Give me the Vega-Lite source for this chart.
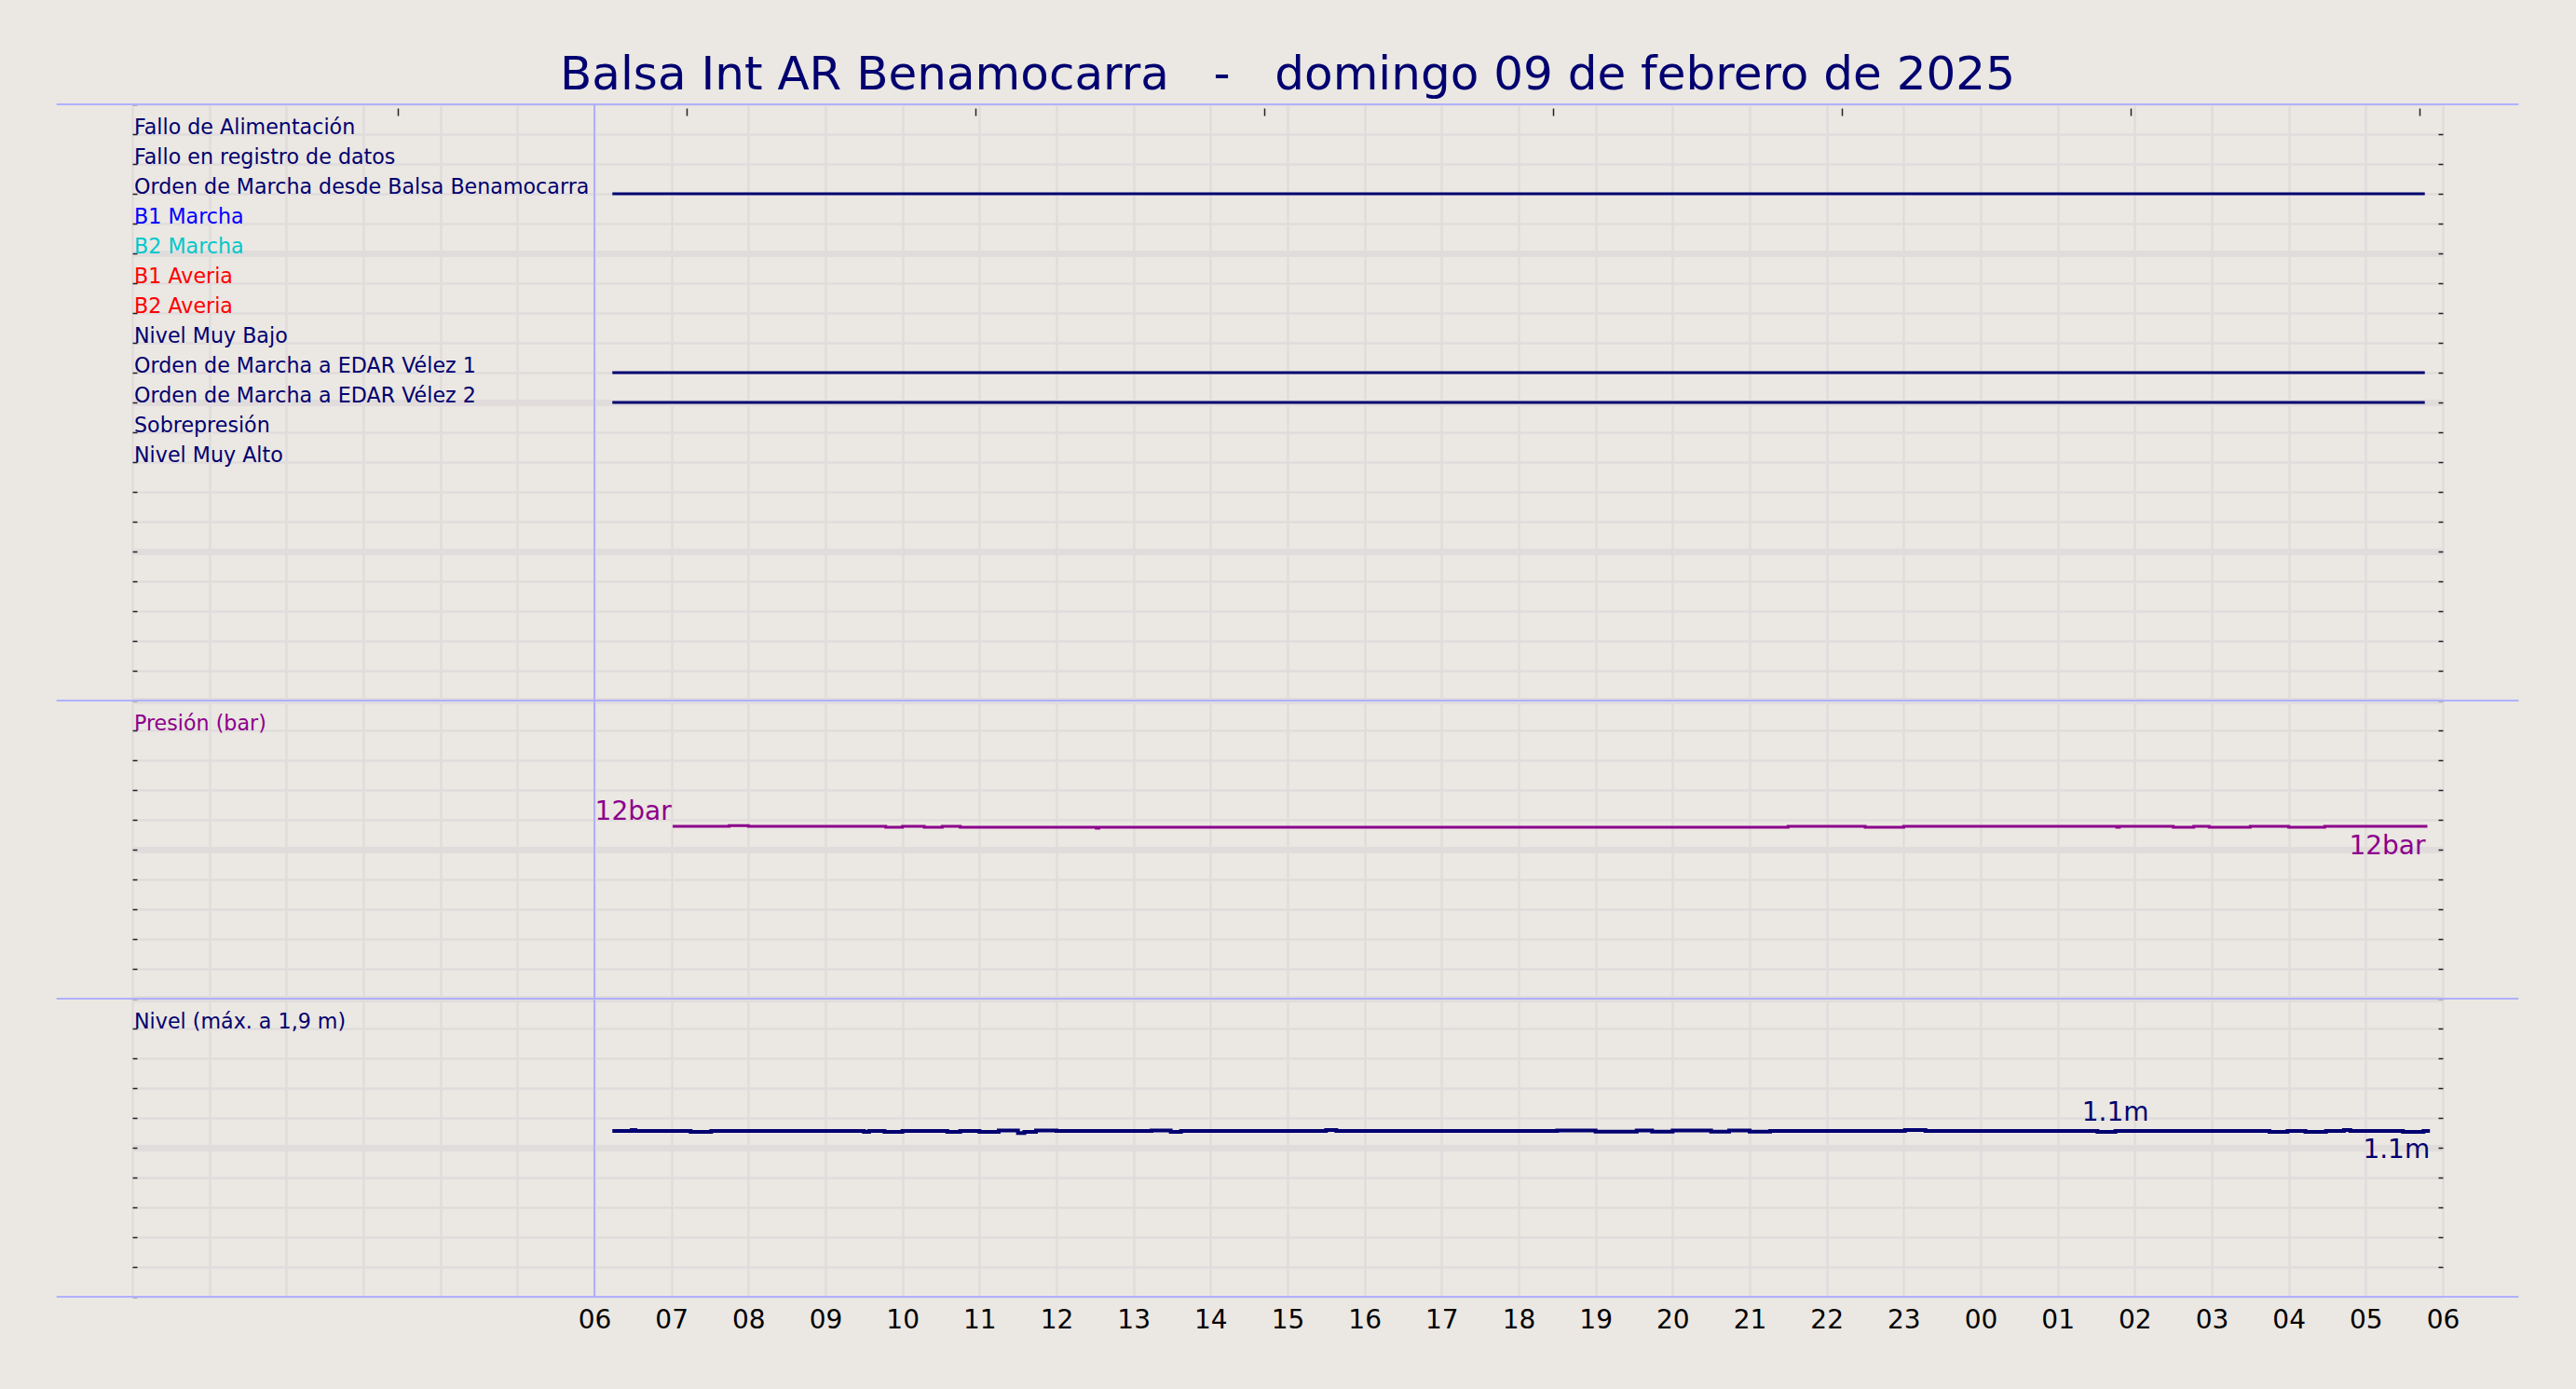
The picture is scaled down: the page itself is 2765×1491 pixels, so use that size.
{
  "$schema": "https://vega.github.io/schema/vega-lite/v6.json",
  "width": 2480,
  "height": 1280,
  "autosize": {"type": "none"},
  "padding": {"left": 142, "top": 112, "right": 143, "bottom": 99},
  "background": "#ebe7e2",
  "config": {
    "view": {"fill": "#ebe7e2", "stroke": null},
    "font": "DejaVu Sans",
    "axis": {"labelFont": "DejaVu Sans", "titleFont": "DejaVu Sans"},
    "text": {"font": "DejaVu Sans"}
  },
  "title": {
    "text": "Balsa Int AR Benamocarra \u00a0 - \u00a0 domingo 09 de febrero de 2025",
    "fontSize": 50,
    "font": "DejaVu Sans",
    "fontWeight": "normal",
    "color": "#000070",
    "anchor": "middle",
    "frame": "group",
    "baseline": "alphabetic",
    "offset": 14,
    "dy": 49
  },
  "datasets": {
    "senales": [
      {"canal": 1, "nombre": "Fallo de Alimentación"},
      {"canal": 2, "nombre": "Fallo en registro de datos"},
      {"canal": 3, "nombre": "Orden de Marcha desde Balsa Benamocarra"},
      {"canal": 4, "nombre": "B1 Marcha"},
      {"canal": 5, "nombre": "B2 Marcha"},
      {"canal": 6, "nombre": "B1 Averia"},
      {"canal": 7, "nombre": "B2 Averia"},
      {"canal": 8, "nombre": "Nivel Muy Bajo"},
      {"canal": 9, "nombre": "Orden de Marcha a EDAR Vélez 1"},
      {"canal": 10, "nombre": "Orden de Marcha a EDAR Vélez 2"},
      {"canal": 11, "nombre": "Sobrepresión"},
      {"canal": 12, "nombre": "Nivel Muy Alto"},
      {"canal": 21, "nombre": "Presión (bar)"},
      {"canal": 31, "nombre": "Nivel (máx. a 1,9 m)"}
    ],
    "periodos": [
      {"canal": 3, "inicio": "2025-02-09T06:14", "fin": "2025-02-10T05:46"},
      {"canal": 9, "inicio": "2025-02-09T06:14", "fin": "2025-02-10T05:46"},
      {"canal": 10, "inicio": "2025-02-09T06:14", "fin": "2025-02-10T05:46"}
    ],
    "bordes": [{"canal": 0}, {"canal": 20}, {"canal": 30}, {"canal": 40}],
    "arranque": [{"t": "2025-02-09T06:00"}],
    "presion": [
      {"t": "2025-02-09T07:01", "p": 11.56},
      {"t": "2025-02-09T07:45", "p": 11.61},
      {"t": "2025-02-09T08:00", "p": 11.56},
      {"t": "2025-02-09T09:47", "p": 11.50},
      {"t": "2025-02-09T10:00", "p": 11.56},
      {"t": "2025-02-09T10:17", "p": 11.50},
      {"t": "2025-02-09T10:31", "p": 11.56},
      {"t": "2025-02-09T10:45", "p": 11.50},
      {"t": "2025-02-09T12:31", "p": 11.44},
      {"t": "2025-02-09T12:33", "p": 11.50},
      {"t": "2025-02-09T21:30", "p": 11.56},
      {"t": "2025-02-09T22:30", "p": 11.50},
      {"t": "2025-02-09T23:00", "p": 11.56},
      {"t": "2025-02-10T01:46", "p": 11.50},
      {"t": "2025-02-10T01:48", "p": 11.56},
      {"t": "2025-02-10T02:30", "p": 11.50},
      {"t": "2025-02-10T02:46", "p": 11.56},
      {"t": "2025-02-10T02:58", "p": 11.50},
      {"t": "2025-02-10T03:30", "p": 11.56},
      {"t": "2025-02-10T04:00", "p": 11.50},
      {"t": "2025-02-10T04:28", "p": 11.56},
      {"t": "2025-02-10T05:48", "p": 11.56}
    ],
    "nivel": [
      {"t": "2025-02-09T06:14", "n": 1.112},
      {"t": "2025-02-09T06:29", "n": 1.118},
      {"t": "2025-02-09T06:32", "n": 1.112},
      {"t": "2025-02-09T07:15", "n": 1.106},
      {"t": "2025-02-09T07:31", "n": 1.112},
      {"t": "2025-02-09T09:30", "n": 1.106},
      {"t": "2025-02-09T09:34", "n": 1.112},
      {"t": "2025-02-09T09:46", "n": 1.106},
      {"t": "2025-02-09T10:00", "n": 1.112},
      {"t": "2025-02-09T10:35", "n": 1.106},
      {"t": "2025-02-09T10:45", "n": 1.112},
      {"t": "2025-02-09T11:00", "n": 1.106},
      {"t": "2025-02-09T11:15", "n": 1.116},
      {"t": "2025-02-09T11:30", "n": 1.098},
      {"t": "2025-02-09T11:35", "n": 1.106},
      {"t": "2025-02-09T11:44", "n": 1.116},
      {"t": "2025-02-09T12:00", "n": 1.112},
      {"t": "2025-02-09T13:14", "n": 1.116},
      {"t": "2025-02-09T13:29", "n": 1.106},
      {"t": "2025-02-09T13:37", "n": 1.112},
      {"t": "2025-02-09T15:30", "n": 1.118},
      {"t": "2025-02-09T15:38", "n": 1.112},
      {"t": "2025-02-09T18:30", "n": 1.116},
      {"t": "2025-02-09T19:00", "n": 1.108},
      {"t": "2025-02-09T19:32", "n": 1.116},
      {"t": "2025-02-09T19:44", "n": 1.108},
      {"t": "2025-02-09T20:00", "n": 1.116},
      {"t": "2025-02-09T20:30", "n": 1.108},
      {"t": "2025-02-09T20:44", "n": 1.116},
      {"t": "2025-02-09T21:00", "n": 1.108},
      {"t": "2025-02-09T21:16", "n": 1.112},
      {"t": "2025-02-09T23:01", "n": 1.118},
      {"t": "2025-02-09T23:17", "n": 1.112},
      {"t": "2025-02-10T01:31", "n": 1.106},
      {"t": "2025-02-10T01:45", "n": 1.112},
      {"t": "2025-02-10T03:45", "n": 1.106},
      {"t": "2025-02-10T03:59", "n": 1.112},
      {"t": "2025-02-10T04:13", "n": 1.106},
      {"t": "2025-02-10T04:29", "n": 1.112},
      {"t": "2025-02-10T04:43", "n": 1.118},
      {"t": "2025-02-10T04:48", "n": 1.112},
      {"t": "2025-02-10T05:29", "n": 1.106},
      {"t": "2025-02-10T05:45", "n": 1.112},
      {"t": "2025-02-10T05:50", "n": 1.112}
    ],
    "etiquetas": [
      {"serie": "p_ini", "t": "2025-02-09T07:00", "v": 11.56, "texto": "12bar"},
      {"serie": "p_fin", "t": "2025-02-10T05:48", "v": 11.56, "texto": "12bar"},
      {"serie": "n_max", "t": "2025-02-10T01:45", "v": 1.112, "texto": "1.1m"},
      {"serie": "n_fin", "t": "2025-02-10T05:50", "v": 1.112, "texto": "1.1m"}
    ]
  },
  "resolve": {
    "scale": {"y": "independent"},
    "axis": {"x": "independent", "y": "independent"}
  },
  "layer": [
    {
      "data": {"name": "periodos"},
      "mark": {"type": "rule", "color": "#000070", "strokeWidth": 3},
      "encoding": {
        "x": {
          "field": "inicio", "type": "temporal",
          "scale": {"domain": [{"year": 2025, "month": 2, "date": 9, "hours": 0}, {"year": 2025, "month": 2, "date": 10, "hours": 6}], "nice": false},
          "axis": {
            "orient": "bottom", "title": null, "grid": true, "gridColor": "#e1dcdc", "gridWidth": 2.5,
            "ticks": false, "domain": false,
            "tickCount": 30,
            "labelExpr": "datum.value < datetime(2025,1,9,6,0) ? '' : timeFormat(datum.value, '%H')",
            "labelFontSize": 28, "labelColor": "#000000", "labelPadding": 33, "labelBaseline": "alphabetic",
            "labelFlush": false, "labelOverlap": false, "labelBound": false
          }
        },
        "x2": {"field": "fin"},
        "y": {
          "field": "canal", "type": "quantitative",
          "scale": {"domain": [0, 40], "reverse": true, "nice": false, "zero": false},
          "axis": {
            "orient": "left", "title": null,
            "values": [0,1,2,3,4,5,6,7,8,9,10,11,12,13,14,15,16,17,18,19,20,21,22,23,24,25,26,27,28,29,30,31,32,33,34,35,36,37,38,39,40],
            "grid": true, "gridColor": "#e1dcdc",
            "gridWidth": {"condition": {"test": "datum.value % 5 == 0 && datum.value > 0 && datum.value < 40", "value": 7}, "value": 2.5},
            "labels": false, "tickSize": -5, "tickColor": "#222222", "tickWidth": 1.5, "domain": false
          }
        }
      }
    },
    {
      "data": {"name": "senales"},
      "mark": {"type": "text", "align": "left", "baseline": "alphabetic", "dx": 2, "fontSize": 22.2, "font": "DejaVu Sans"},
      "encoding": {
        "x": {"datum": {"year": 2025, "month": 2, "date": 9, "hours": 0}, "type": "temporal", "axis": null},
        "y": {
          "field": "canal", "type": "quantitative",
          "scale": {"domain": [0, 40], "reverse": true, "nice": false, "zero": false},
          "axis": {
            "orient": "right", "title": null,
            "values": [1,2,3,4,5,6,7,8,9,10,11,12,13,14,15,16,17,18,19,20,21,22,23,24,25,26,27,28,29,30,31,32,33,34,35,36,37,38,39],
            "grid": false, "labels": false, "tickSize": -5, "tickColor": "#222222", "tickWidth": 1.5, "domain": false
          }
        },
        "text": {"field": "nombre"},
        "color": {
          "field": "nombre", "type": "nominal", "legend": null,
          "scale": {
            "domain": ["Fallo de Alimentación", "Fallo en registro de datos", "Orden de Marcha desde Balsa Benamocarra", "B1 Marcha", "B2 Marcha", "B1 Averia", "B2 Averia", "Nivel Muy Bajo", "Orden de Marcha a EDAR Vélez 1", "Orden de Marcha a EDAR Vélez 2", "Sobrepresión", "Nivel Muy Alto", "Presión (bar)", "Nivel (máx. a 1,9 m)"],
            "range": ["#000070", "#000070", "#000070", "#0000ff", "#00c8cc", "#ff0000", "#ff0000", "#000070", "#000070", "#000070", "#000070", "#000070", "#8b008b", "#000070"]
          }
        }
      }
    },
    {
      "data": {"name": "bordes"},
      "mark": {"type": "rule", "color": "#b0b0ff", "strokeWidth": 2},
      "encoding": {
        "x": {"datum": {"year": 2025, "month": 2, "date": 8, "hours": 23, "minutes": 1}, "type": "temporal", "axis": null},
        "x2": {"datum": {"year": 2025, "month": 2, "date": 10, "hours": 6, "minutes": 59}},
        "y": {"field": "canal", "type": "quantitative", "scale": {"domain": [0, 40], "reverse": true, "nice": false, "zero": false}, "axis": null}
      }
    },
    {
      "data": {"name": "arranque"},
      "mark": {"type": "rule", "color": "#b0b0ff", "strokeWidth": 2},
      "encoding": {
        "x": {
          "field": "t", "type": "temporal",
          "axis": {
            "orient": "top", "title": null, "grid": false, "labels": false, "domain": false,
            "tickSize": -8, "offset": -4, "tickColor": "#222222", "tickWidth": 1.5,
            "values": [
              {"year": 2025, "month": 2, "date": 9, "hours": 3, "minutes": 27},
              {"year": 2025, "month": 2, "date": 9, "hours": 7, "minutes": 12},
              {"year": 2025, "month": 2, "date": 9, "hours": 10, "minutes": 57},
              {"year": 2025, "month": 2, "date": 9, "hours": 14, "minutes": 42},
              {"year": 2025, "month": 2, "date": 9, "hours": 18, "minutes": 27},
              {"year": 2025, "month": 2, "date": 9, "hours": 22, "minutes": 12},
              {"year": 2025, "month": 2, "date": 10, "hours": 1, "minutes": 57},
              {"year": 2025, "month": 2, "date": 10, "hours": 5, "minutes": 42}
            ]
          }
        }
      }
    },
    {
      "data": {"name": "presion"},
      "mark": {"type": "line", "color": "#8b008b", "strokeWidth": 3, "interpolate": "step-after"},
      "encoding": {
        "x": {"field": "t", "type": "temporal", "axis": null},
        "y": {"field": "p", "type": "quantitative", "scale": {"domain": [-20, 60], "nice": false, "zero": false}, "axis": null}
      }
    },
    {
      "data": {"name": "nivel"},
      "mark": {"type": "line", "color": "#000070", "strokeWidth": 4, "interpolate": "step-after"},
      "encoding": {
        "x": {"field": "t", "type": "temporal", "axis": null},
        "y": {"field": "n", "type": "quantitative", "scale": {"domain": [0, 8], "nice": false, "zero": false}, "axis": null}
      }
    },
    {
      "data": {"name": "etiquetas"},
      "transform": [{"filter": "datum.serie == 'p_ini'"}],
      "mark": {"type": "text", "align": "right", "baseline": "alphabetic", "dy": -7, "fontSize": 28, "color": "#8b008b"},
      "encoding": {
        "x": {"field": "t", "type": "temporal", "axis": null},
        "y": {"field": "v", "type": "quantitative", "scale": {"domain": [-20, 60], "nice": false, "zero": false}, "axis": null},
        "text": {"field": "texto"}
      }
    },
    {
      "data": {"name": "etiquetas"},
      "transform": [{"filter": "datum.serie == 'p_fin'"}],
      "mark": {"type": "text", "align": "right", "baseline": "alphabetic", "dy": 30, "dx": -2, "fontSize": 28, "color": "#8b008b"},
      "encoding": {
        "x": {"field": "t", "type": "temporal", "axis": null},
        "y": {"field": "v", "type": "quantitative", "scale": {"domain": [-20, 60], "nice": false, "zero": false}, "axis": null},
        "text": {"field": "texto"}
      }
    },
    {
      "data": {"name": "etiquetas"},
      "transform": [{"filter": "datum.serie == 'n_max'"}],
      "mark": {"type": "text", "align": "center", "baseline": "alphabetic", "dy": -11, "fontSize": 28, "color": "#000070"},
      "encoding": {
        "x": {"field": "t", "type": "temporal", "axis": null},
        "y": {"field": "v", "type": "quantitative", "scale": {"domain": [0, 8], "nice": false, "zero": false}, "axis": null},
        "text": {"field": "texto"}
      }
    },
    {
      "data": {"name": "etiquetas"},
      "transform": [{"filter": "datum.serie == 'n_fin'"}],
      "mark": {"type": "text", "align": "right", "baseline": "alphabetic", "dy": 29, "fontSize": 28, "color": "#000070"},
      "encoding": {
        "x": {"field": "t", "type": "temporal", "axis": null},
        "y": {"field": "v", "type": "quantitative", "scale": {"domain": [0, 8], "nice": false, "zero": false}, "axis": null},
        "text": {"field": "texto"}
      }
    }
  ]
}
